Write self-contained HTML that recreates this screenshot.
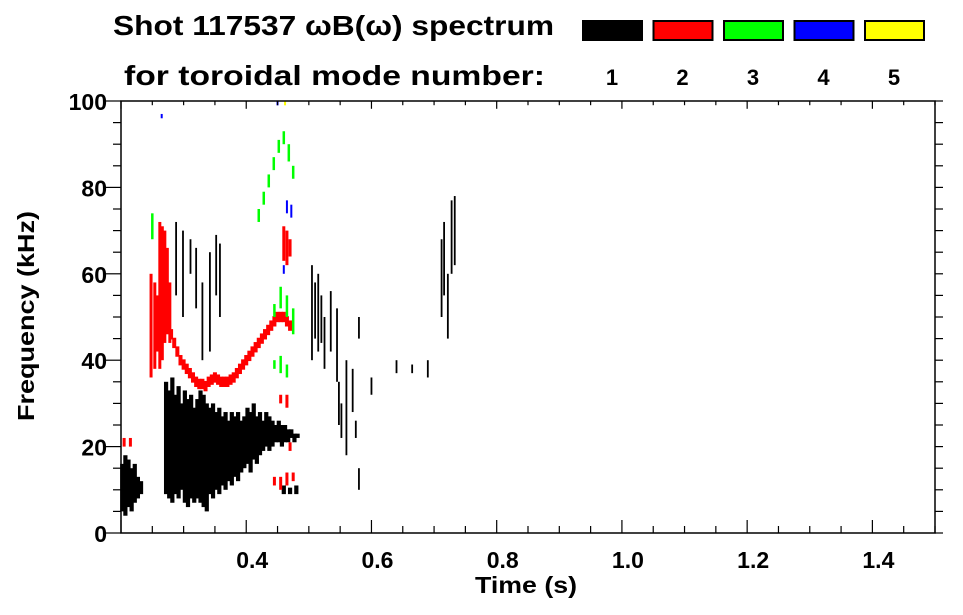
<!DOCTYPE html>
<html><head><meta charset="utf-8"><style>
body{margin:0;background:#fff}
svg{display:block;font-family:"Liberation Sans",Arial,sans-serif;font-weight:bold}
</style></head><body>
<svg id="chart" width="963" height="615" viewBox="0 0 963 615">
<text x="113" y="35" font-size="28" textLength="441" lengthAdjust="spacingAndGlyphs">Shot 117537 ωB(ω) spectrum</text>
<text x="124" y="85" font-size="28" textLength="421" lengthAdjust="spacingAndGlyphs">for toroidal mode number:</text>
<g id="legend"></g>
<g id="marks"></g>
<g id="axes"></g>
<text x="526" y="593" font-size="23" text-anchor="middle" textLength="102" lengthAdjust="spacingAndGlyphs">Time (s)</text>
<text transform="translate(34,316) rotate(-90)" font-size="23" text-anchor="middle" textLength="210" lengthAdjust="spacingAndGlyphs">Frequency (kHz)</text>
</svg>
<script>
const modeLabels=["1","2","3","4","5"];
const modeColors=["#000000","#ff0000","#00ff00","#0000ff","#ffff00"];
const xTicks=[0.4,0.6,0.8,1.0,1.2,1.4];
const yTicks=[0,20,40,60,80,100];
// mode 1 bulk streaks: time, low freq, high freq
const m1T=[0.202,0.207,0.212,0.217,0.222,0.227,0.232,
0.272,0.277,0.282,0.287,0.292,0.297,0.302,0.307,0.312,0.317,0.322,0.327,0.332,0.337,0.342,0.347,0.352,0.357,0.362,0.367,0.372,0.377,0.382,0.387,0.392,0.397,0.402,0.407,0.412,0.417,0.422,0.427,0.432,0.437,0.442,0.447,0.452,0.457,0.462,0.467,0.472,0.477,0.482,
0.460,0.470,0.480];
const m1Lo=[5,4,6,5,7,8,9,
9,8,7,9,8,10,7,6,8,7,8,7,6,5,9,8,10,9,11,10,12,11,13,12,14,15,16,14,17,16,18,19,20,19,20,21,21,20,21,21,22,21,22,
9,9,9];
const m1Hi=[16,18,17,15,16,13,12,
35,33,36,32,34,30,33,31,32,29,31,33,32,30,29,30,28,29,27,28,26,28,27,28,26,27,29,28,30,27,28,26,28,27,26,25,26,25,25,24,24,23,23,
11,10.5,11];
// mode 1 thin vertical streaks
const m1ThinT=[0.288,0.299,0.311,0.320,0.330,0.342,0.352,0.358,
0.505,0.510,0.515,0.520,0.525,0.535,0.545,0.548,0.552,0.560,0.570,0.575,0.580,0.600,
0.712,0.716,0.722,0.728,0.733,0.58,0.64,0.665,0.69];
const m1ThinLo=[55,50,60,52,40,42,55,50,
40,45,42,44,38,42,35,25,22,18,28,22,10,32,
50,55,45,60,62,45,37,37,36];
const m1ThinHi=[72,70,68,66,58,65,69,67,
62,58,60,55,50,56,52,35,30,40,38,26,15,36,
68,72,60,77,78,50,40,39,40];
// mode 2
const m2T=[0.248,0.254,0.258,0.262,0.266,0.270,0.274,0.278,0.460,0.465,0.470,0.455,0.465,0.445,0.455,0.465,0.475,0.470,0.205,0.215];
const m2Lo=[36,38,42,38,40,44,46,44,63,62,64,30,29,11,10,11,12,19,20,20];
const m2Hi=[60,58,55,72,71,70,66,58,71,70,68,32,32,13,13,14,14,21,22,22];
const m2CurveT=[0.28,0.285,0.29,0.295,0.30,0.305,0.31,0.315,0.32,0.325,0.33,0.335,0.34,0.345,0.35,0.355,0.36,0.365,0.37,0.375,0.38,0.385,0.39,0.395,0.40,0.405,0.41,0.415,0.42,0.425,0.43,0.435,0.44,0.445,0.45,0.455,0.46,0.465,0.47];
const m2CurveF=[46,44,42,40,39,38,37,36,35,34.5,34.5,34,35,35.5,36,35.5,35,35,35,35.5,36,37,38,39,40,41,42,43,44,45,46,47,48,49,50,50,50,49,48];
const m3T=[0.420,0.428,0.436,0.444,0.452,0.460,0.468,0.475,0.445,0.455,0.465,0.475,0.445,0.455,0.465,0.250];
const m3Lo=[72,76,80,84,88,90,86,82,50,52,50,46,38,37,36,68];
const m3Hi=[75,79,83,87,91,93,90,85,53,57,55,52,40,41,39,74];
const m4T=[0.450,0.465,0.472,0.460,0.265];
const m4Lo=[99,74,73,60,96];
const m4Hi=[100,77,76,62,97];
const m5T=[0.462];
const m5Lo=[99];
const m5Hi=[100];

const X0=121,X1=935,Y0=533,Y1=101,T0=0.2,T1=1.5,F0=0,F1=100;
function xs(t){return X0+(t-T0)/(T1-T0)*(X1-X0);}
function ys(f){return Y0-(f-F0)/(F1-F0)*(Y0-Y1);}
const NS="http://www.w3.org/2000/svg";
function mk(tag,attrs,parent){const e=document.createElementNS(NS,tag);for(const k in attrs)e.setAttribute(k,attrs[k]);parent.appendChild(e);return e;}
const marks=document.getElementById('marks');
function streaks(T,Lo,Hi,color,name,w){
  for(let i=0;i<T.length;i++){
    const r=mk('rect',{x:xs(T[i])-w/2,y:ys(Hi[i]),width:w,height:Math.max(1.5,ys(Lo[i])-ys(Hi[i])),fill:color},marks);
    
    
  }
}
streaks(m1T,m1Lo,m1Hi,modeColors[0],'mode-1-streak',4.2);
streaks(m1ThinT,m1ThinLo,m1ThinHi,modeColors[0],'mode-1-thin-streak',1.8);
streaks(m2T,m2Lo,m2Hi,modeColors[1],'mode-2-streak',3);
for(let i=0;i<m2CurveT.length;i++){
  const r=mk('rect',{x:xs(m2CurveT[i])-2,y:ys(m2CurveF[i]+1.2),width:4,height:ys(m2CurveF[i]-1.2)-ys(m2CurveF[i]+1.2),fill:modeColors[1]},marks);
  
  
}
streaks(m3T,m3Lo,m3Hi,modeColors[2],'mode-3-streak',2.5);
streaks(m4T,m4Lo,m4Hi,modeColors[3],'mode-4-streak',2);
streaks(m5T,m5Lo,m5Hi,modeColors[4],'mode-5-streak',2);

const axes=document.getElementById('axes');
const frame=mk('rect',{x:X0,y:Y1,width:X1-X0,height:Y0-Y1,fill:'none',stroke:'#000','stroke-width':1.5},axes);


for(let t=0.2;t<=1.5001;t+=0.05){
  const major=Math.abs(Math.round(t*10)/10-t)<1e-6&&Math.round(t*10)%2===0;
  const L=major?13:7;const x=xs(t);
  mk('line',{x1:x,x2:x,y1:Y0,y2:Y0-L,stroke:'#000','stroke-width':1.2},axes);
  mk('line',{x1:x,x2:x,y1:Y1,y2:Y1+L*0.6,stroke:'#000','stroke-width':1.2},axes);
}
for(let f=0;f<=100;f+=5){
  const major=f%20===0;const y=ys(f);
  mk('line',{x1:X0,x2:X0-(major?16:8),y1:y,y2:y,stroke:'#000','stroke-width':1.2},axes);
  mk('line',{x1:X1,x2:X1+8,y1:y,y2:y,stroke:'#000','stroke-width':1.2},axes);
}
xTicks.forEach(v=>{
  const t=mk('text',{x:xs(v)+6,y:568,'font-size':23,'text-anchor':'middle'},axes);
  t.textContent=v.toFixed(1);
  
  
});
yTicks.forEach(v=>{
  const t=mk('text',{x:107,y:ys(v)+9,'font-size':23,'text-anchor':'end'},axes);
  t.textContent=v;
  
  
});
const leg=document.getElementById('legend');
modeLabels.forEach((lab,i)=>{
  const x=582+i*70.5;
  const r=mk('rect',{x:x+1,y:21,width:59,height:19,fill:modeColors[i],stroke:'#000','stroke-width':2},leg);
  
  
  const t=mk('text',{x:x+30,y:85,'font-size':22,'text-anchor':'middle'},leg);
  t.textContent=lab;
  
  
});
</script>
</body></html>
